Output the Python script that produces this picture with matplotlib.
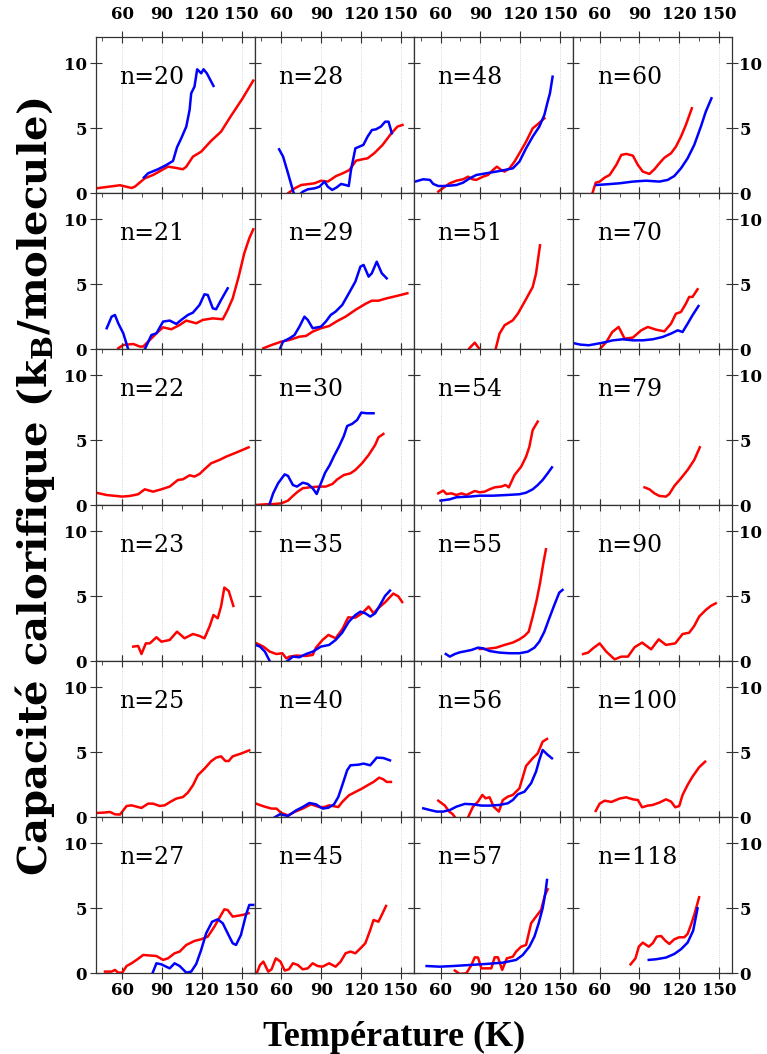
import matplotlib
matplotlib.use("Agg")
import matplotlib.pyplot as plt

# cluster sizes, laid out row by row as in the figure
sizes = [[20, 28, 48, 60],
         [21, 29, 51, 70],
         [22, 30, 54, 79],
         [23, 35, 55, 90],
         [25, 40, 56, 100],
         [27, 45, 57, 118]]

# ---- red curves: temperature (K), heat capacity (kB/molecule) ----
T20r = [40.3, 58.3, 67, 69.5, 77, 83.3, 94.5, 99.5, 105.8, 108.3, 113.3, 119.5, 127, 134.5, 142, 150.8, 158.8]
C20r = [0.38, 0.62, 0.41, 0.51, 1.15, 1.41, 2.05, 1.97, 1.85, 2.05, 2.82, 3.2, 4.03, 4.74, 5.95, 7.31, 8.67]
T21r = [57, 60.8, 68.3, 73.3, 75.8, 80.8, 85.8, 90.8, 97, 103.3, 108.3, 115.8, 120.8, 128.3, 135.8, 139.5, 143.3, 147.8, 152, 155.8, 158.8]
C21r = [0.08, 0.33, 0.41, 0.21, 0.21, 0.72, 1.23, 1.69, 1.54, 1.87, 2.21, 2.0, 2.26, 2.38, 2.31, 3.03, 3.92, 5.59, 7.38, 8.54, 9.23]
T22r = [40.3, 48.3, 60, 65.8, 72, 77, 83.3, 89.5, 95.8, 102, 105.8, 110.8, 114.5, 118.3, 122, 127, 133.3, 138.3, 145.8, 155.3]
C22r = [0.97, 0.79, 0.67, 0.72, 0.85, 1.23, 1.05, 1.23, 1.44, 1.95, 2.0, 2.31, 2.21, 2.41, 2.77, 3.23, 3.49, 3.74, 4.05, 4.46]
T23r = [68.3, 72, 74.5, 77.8, 80.8, 85.8, 89.5, 95.8, 101.3, 107, 113.3, 118.3, 122, 125.8, 128.8, 132, 134.5, 137, 140.3, 143.8]
C23r = [1.13, 1.18, 0.56, 1.38, 1.38, 1.85, 1.51, 1.64, 2.28, 1.77, 2.1, 1.95, 1.77, 2.67, 3.56, 3.31, 4.21, 5.67, 5.41, 4.26]
T25r = [40.3, 45.8, 50.8, 54.5, 58.3, 63.3, 67, 74.5, 79.5, 83.3, 88.3, 92, 97, 100.8, 105.8, 109.5, 113.3, 117, 122, 127, 130.8, 134.5, 137.8, 140.3, 143.3, 149.5, 155.8]
C25r = [0.33, 0.36, 0.41, 0.23, 0.21, 0.87, 0.92, 0.72, 1.05, 1.05, 0.87, 0.92, 1.23, 1.44, 1.56, 1.9, 2.46, 3.23, 3.74, 4.31, 4.59, 4.69, 4.33, 4.33, 4.69, 4.9, 5.15]
T27r = [47, 52, 54.5, 57, 60, 63.3, 67, 70.8, 75.8, 82, 85.8, 90.8, 94.5, 99.5, 103.3, 108.3, 114.5, 119.5, 124.5, 129.5, 133.8, 137, 139.5, 143.3, 150.8, 155.3]
C27r = [0.13, 0.13, 0.26, 0.05, 0.05, 0.56, 0.77, 1.03, 1.41, 1.36, 1.33, 1.03, 1.15, 1.54, 1.67, 2.18, 2.49, 2.62, 2.82, 3.59, 4.36, 4.92, 4.87, 4.36, 4.49, 4.62]
T28r = [65, 70, 75, 81.3, 85, 90, 95, 101.3, 106.3, 111.3, 116.3, 121.3, 125, 130, 136.3, 142.5, 147.5, 151.3]
C28r = [0, 0.38, 0.64, 0.72, 0.77, 0.97, 0.9, 1.33, 1.54, 1.79, 2.51, 2.62, 2.69, 3.08, 3.72, 4.56, 5.13, 5.26]
T29r = [46.4, 52.6, 60, 66.2, 73.6, 78.6, 83.6, 89.8, 96, 102.2, 108.4, 115.8, 123.3, 128.2, 133.2, 139.4, 146.8, 155]
C29r = [0.08, 0.33, 0.59, 0.72, 0.97, 1.03, 1.36, 1.62, 1.79, 2.18, 2.51, 3.03, 3.49, 3.74, 3.74, 3.92, 4.1, 4.31]
T30r = [41.4, 48.8, 55, 60, 65, 68.7, 72.4, 76.1, 81.1, 88.5, 93.5, 98.5, 102.2, 107.1, 112.1, 115.8, 120.8, 125.8, 130.7, 133.2, 136.9]
C30r = [0.03, 0.08, 0.1, 0.15, 0.36, 0.72, 1.05, 1.31, 1.38, 1.44, 1.44, 1.64, 2.0, 2.33, 2.46, 2.72, 3.23, 3.87, 4.64, 5.23, 5.49]
T35r = [41.4, 46.4, 51.3, 56.3, 60.7, 63.7, 66.2, 71.2, 78.6, 83.6, 86.1, 91, 95.5, 100.9, 105.9, 110.4, 115.8, 120.8, 125.8, 129.5, 133.2, 138.2, 144.4, 148.1, 151.1]
C35r = [1.38, 1.13, 0.74, 0.56, 0.62, 0.23, 0.36, 0.44, 0.41, 0.49, 1.05, 1.64, 2.03, 1.77, 2.46, 3.38, 3.36, 3.69, 4.21, 3.69, 4.1, 4.54, 5.21, 5.0, 4.56]
T40r = [40.9, 46.4, 52.6, 56.3, 60, 65, 69.9, 76.1, 82.3, 88.5, 92.3, 96, 99.7, 102.9, 105.9, 110.9, 115.8, 120.8, 125.8, 129.5, 133.7, 136.9, 139.4, 142.6]
C40r = [1.05, 0.85, 0.67, 0.67, 0.33, 0.15, 0.41, 0.67, 1.0, 0.79, 0.79, 0.92, 0.85, 0.79, 1.18, 1.69, 1.95, 2.21, 2.51, 2.72, 3.05, 2.92, 2.72, 2.72]
T45r = [41.4, 43.9, 46.4, 50.1, 52.6, 55.8, 59.3, 62.5, 65.7, 68.7, 72.4, 76.1, 79.9, 83.6, 87.3, 91, 96, 100.9, 104.7, 108.4, 112.1, 115.8, 119.6, 123.3, 127, 129.5, 133.2, 135.7, 138.9]
C45r = [0, 0.64, 0.9, 0.13, 0.31, 1.15, 0.9, 0.21, 0.31, 0.77, 0.64, 0.31, 0.38, 0.77, 0.56, 0.51, 0.77, 0.51, 0.9, 1.54, 1.67, 1.54, 1.92, 2.31, 3.33, 4.1, 3.97, 4.49, 5.18]
T48r = [58.3, 63.3, 67, 72, 77, 80.8, 84, 87, 92, 95.8, 99.5, 102.5, 105.8, 108.3, 112, 115.8, 119.5, 124.5, 129.5, 133.3, 138.3]
C48r = [0.13, 0.51, 0.77, 0.97, 1.08, 1.28, 1.08, 1.03, 1.28, 1.41, 1.79, 2.05, 1.79, 1.67, 1.92, 2.44, 3.08, 3.97, 5.0, 5.31, 5.77]
T51r = [79.5, 81.5, 85.8, 89.5, 94.5, 101.5, 104.5, 108.3, 114.5, 118.3, 123.3, 129.5, 132, 135]
C51r = [-0.5, 0.05, 0.51, 0, -1.0, 0, 1.21, 1.85, 2.23, 2.74, 3.64, 4.79, 5.82, 8.0]
T54r = [58.3, 62, 64.5, 68.3, 72, 75.8, 79.5, 85.8, 89.5, 93.3, 97, 100.8, 105.8, 109, 111.5, 115.8, 120.8, 124.5, 127, 129.5, 133.3]
C54r = [0.92, 1.13, 0.87, 0.92, 0.79, 0.92, 0.79, 1.1, 1.0, 1.05, 1.23, 1.38, 1.44, 1.56, 1.38, 2.33, 2.97, 3.74, 4.51, 5.79, 6.44]
T55r = [89.5, 94.5, 102, 108.3, 114.5, 119.5, 123.3, 126.5, 129.5, 132.5, 135, 137.5, 139.5]
C55r = [0.95, 0.95, 1.05, 1.26, 1.44, 1.69, 1.95, 2.28, 3.44, 4.72, 6.0, 7.54, 8.62]
T56r = [58.3, 63.3, 66.5, 69, 71.5, 75.8, 80.8, 84.5, 88.3, 91.5, 94, 97, 100, 104, 107, 110.8, 114.5, 119.5, 124.5, 129.5, 133.3, 137, 140.3]
C56r = [1.28, 0.9, 0.44, 0.26, -0.08, -0.5, 0, 0.82, 1.21, 1.72, 1.46, 1.54, 0.82, 0.44, 1.33, 1.59, 1.72, 2.23, 3.95, 4.54, 4.92, 5.82, 6.03]
T57r = [70.8, 74.5, 79.5, 83.3, 85.8, 88.3, 90.8, 94.5, 98.3, 100.8, 103.3, 106.5, 110, 114.5, 117, 120.8, 124.5, 128.3, 132, 135.8, 138.8, 140.8]
C57r = [0.21, -0.05, 0, 0.64, 1.23, 1.21, 0.38, 0.38, 0.38, 1.23, 1.23, 0.26, 1.15, 1.28, 1.67, 2.05, 2.18, 3.85, 4.36, 4.87, 6.03, 6.46]
T60r = [54.5, 57, 60, 63.8, 67.5, 72.5, 76.3, 80, 85, 88.8, 92.5, 97.5, 101.3, 105, 108.8, 113.8, 117.5, 121.3, 125, 129.5]
C60r = [0, 0.82, 0.9, 1.21, 1.41, 2.18, 2.95, 3.03, 2.9, 2.18, 1.67, 1.49, 1.85, 2.31, 2.74, 3.08, 3.59, 4.36, 5.26, 6.54]
T70r = [60, 65, 69.5, 74.3, 78.8, 85, 91.3, 96.3, 102.5, 108.8, 113.8, 117.5, 121.3, 125, 127.5, 130, 133.8]
C70r = [0, 0.56, 1.33, 1.72, 0.82, 0.9, 1.46, 1.72, 1.51, 1.38, 1.97, 2.74, 2.87, 3.51, 4.03, 4.03, 4.62]
T79r = [93.8, 97.5, 101.3, 105, 110, 112.5, 116.3, 121.3, 126.3, 131.3, 135.5]
C79r = [1.38, 1.23, 0.92, 0.72, 0.67, 0.87, 1.49, 2.08, 2.72, 3.49, 4.46]
T90r = [47.5, 51.3, 55, 60, 65, 71.3, 76.3, 81.3, 86.3, 92, 98.8, 104.5, 110, 117, 122.5, 127.5, 131.3, 135, 140, 143.8, 147.5]
C90r = [0.56, 0.67, 1.0, 1.38, 0.74, 0.15, 0.36, 0.36, 1.08, 1.44, 0.92, 1.69, 1.26, 1.38, 2.1, 2.2, 2.72, 3.44, 3.95, 4.26, 4.46]
T100r = [57, 60, 63.8, 68.8, 75, 80, 85, 88.8, 92, 96.3, 100, 105, 110, 113.8, 117, 120, 122.5, 126.3, 130, 135, 139.5]
C100r = [0.49, 1.05, 1.28, 1.18, 1.44, 1.54, 1.38, 1.33, 0.77, 0.9, 0.95, 1.13, 1.38, 1.21, 0.77, 0.87, 1.72, 2.49, 3.13, 3.85, 4.28]
T118r = [83.3, 87, 89.5, 92.5, 97, 100, 103, 106.3, 109.5, 112.5, 116.3, 120, 123.8, 126.3, 128.8, 131.3, 135]
C118r = [0.69, 1.15, 2.05, 2.36, 2.05, 2.31, 2.82, 2.87, 2.51, 2.26, 2.62, 2.77, 2.77, 3.03, 3.72, 4.49, 5.85]

# ---- blue curves ----
T20b = [76.3, 79.5, 87, 93.3, 98.3, 101.3, 104.5, 108.3, 110.8, 112, 114.5, 116.5, 118.3, 119.5, 121.3, 123.8, 128.8]
C20b = [1.21, 1.54, 1.85, 2.18, 2.49, 3.54, 4.23, 5.13, 6.41, 7.69, 8.21, 9.54, 9.36, 9.23, 9.54, 9.23, 8.26]
T21b = [48.3, 52, 54.5, 57, 60.8, 64.5, 70.8, 77, 82, 85.8, 90.8, 95.8, 100.8, 104.5, 109.5, 113.3, 118.3, 122, 124.5, 128.3, 130.8, 134.5, 139.5]
C21b = [1.62, 2.51, 2.64, 2.0, 1.23, 0, -0.5, 0, 1.1, 1.23, 2.13, 2.21, 1.95, 2.26, 2.64, 2.82, 3.41, 4.23, 4.18, 3.15, 3.08, 3.79, 4.69]
T28b = [58.3, 61.3, 65, 69.3, 72.5, 76.3, 80, 85, 88.8, 92.5, 95, 98.3, 101.8, 105, 108.3, 110.8, 112.5, 115.8, 118.8, 121.8, 125, 128.3, 131.3, 135, 138.3, 140.8, 143.3]
C28b = [3.38, 2.82, 1.54, 0, -0.2, 0.13, 0.31, 0.38, 0.51, 0.9, 0.51, 0.26, 0.46, 0.72, 0.64, 0.56, 1.79, 3.46, 3.59, 3.72, 4.36, 4.87, 4.92, 5.13, 5.51, 5.51, 4.62]
T29b = [58.8, 61.2, 66.2, 69.9, 73.6, 77.4, 79.9, 83.6, 89.8, 93.5, 97.2, 100.9, 105.9, 110.9, 115.8, 119.6, 122, 125.8, 128.2, 131.9, 135.7, 139.4]
C29b = [0, 0.59, 0.85, 1.1, 1.74, 2.51, 2.26, 1.62, 1.74, 2.13, 2.64, 2.9, 3.41, 4.31, 5.21, 6.36, 6.49, 5.59, 5.85, 6.74, 5.85, 5.46]
T30b = [50.8, 53.8, 57.5, 62.5, 65, 68.7, 71.7, 76.1, 79.9, 83.6, 86.6, 89.8, 93, 96.5, 99.7, 103.4, 107.1, 109.6, 113.3, 117.1, 120.3, 124.5, 129.5]
C30b = [0, 0.92, 1.69, 2.38, 2.26, 1.56, 1.44, 1.74, 1.64, 1.31, 0.87, 1.69, 2.51, 3.1, 3.79, 4.51, 5.33, 6.1, 6.26, 6.56, 7.13, 7.08, 7.08]
T35b = [40.6, 43.9, 47.6, 51.3, 55, 60, 64.2, 68.7, 73.6, 78.6, 83.6, 89.8, 96, 100.9, 105.9, 110.9, 115.8, 119.6, 123.3, 127, 130.7, 134.4, 138.2, 141.9]
C35b = [1.26, 1.13, 0.74, 0, -0.5, -0.3, 0, 0.36, 0.31, 0.56, 0.74, 1.13, 1.26, 1.64, 2.21, 3.05, 3.56, 3.82, 3.69, 3.44, 3.69, 4.33, 5.03, 5.44]
T40b = [55, 58.8, 65, 71.2, 76.1, 81.1, 86.1, 91, 95.5, 99.7, 102.9, 105.9, 109.6, 112.1, 118.3, 122, 127, 131.9, 136.9, 141.9]
C40b = [0, 0.23, 0.1, 0.54, 0.79, 1.1, 1.0, 0.67, 0.74, 1.0, 1.56, 2.46, 3.62, 4.0, 4.05, 4.13, 4.0, 4.59, 4.56, 4.38]
T48b = [40.8, 47, 52, 54.5, 58.3, 62, 67, 72, 77, 82, 87, 94.5, 102, 108.3, 114.5, 119.5, 124.5, 129.5, 134.5, 138.3, 140.8, 142.5, 144.5]
C48b = [0.9, 1.08, 1.03, 0.72, 0.56, 0.56, 0.59, 0.64, 0.82, 1.15, 1.41, 1.54, 1.67, 1.79, 1.92, 2.44, 3.46, 4.36, 5.13, 6.03, 7.05, 7.69, 8.97]
T54b = [60, 67, 72, 82, 89.5, 99.5, 109.5, 119.5, 124.5, 129.5, 133.3, 137, 140.8, 144]
C54b = [0.36, 0.46, 0.62, 0.67, 0.74, 0.74, 0.79, 0.85, 0.97, 1.23, 1.56, 1.95, 2.46, 2.92]
T55b = [64, 67, 70.8, 74.5, 79.5, 83.3, 88.3, 92, 97, 104.5, 112, 119.5, 125.8, 130.8, 134.5, 138.3, 142, 145.8, 149.5, 152]
C55b = [0.56, 0.36, 0.56, 0.69, 0.79, 0.87, 1.05, 1.0, 0.79, 0.67, 0.62, 0.62, 0.74, 1.05, 1.51, 2.28, 3.31, 4.33, 5.28, 5.49]
T56b = [47, 52, 57, 62, 67, 72, 78.3, 84.5, 90.8, 97, 104.5, 110.8, 114.5, 118.3, 123.3, 128.3, 132, 134.5, 137, 140.3, 144]
C56b = [0.69, 0.56, 0.44, 0.44, 0.56, 0.82, 1.03, 1.0, 0.9, 0.9, 0.95, 1.08, 1.33, 1.77, 1.97, 2.62, 3.51, 4.41, 5.18, 4.85, 4.54]
T57b = [49.5, 59.5, 69.5, 82, 94.5, 107, 117, 122, 127, 130.8, 134, 137, 139, 140.3]
C57b = [0.56, 0.51, 0.56, 0.64, 0.72, 0.82, 1.03, 1.41, 2.05, 2.82, 3.85, 5.0, 6.15, 7.18]
T60b = [57.5, 65, 75, 85, 95, 105, 111.3, 116.3, 121.3, 126.3, 131.3, 136.3, 140, 144.3]
C60b = [0.64, 0.69, 0.77, 0.9, 0.97, 0.9, 1.03, 1.33, 1.92, 2.69, 3.72, 5.13, 6.28, 7.31]
T70b = [39.5, 45.5, 51.8, 62.5, 70, 77.5, 85, 92.5, 100, 107.5, 113.8, 118.8, 122.5, 126.3, 130, 134.5]
C70b = [0.49, 0.36, 0.31, 0.51, 0.69, 0.77, 0.69, 0.69, 0.77, 0.95, 1.21, 1.46, 1.33, 1.97, 2.62, 3.33]
T118b = [97, 102.5, 110, 116.3, 121.3, 126.3, 130.5, 133.8]
C118b = [1.03, 1.08, 1.21, 1.49, 1.85, 2.36, 3.28, 5.0]
T27b = [82.8, 85.8, 89.5, 95.8, 99.5, 103.3, 108.3, 112, 115.8, 119.5, 123.3, 127.8, 132, 135.8, 139.5, 143.3, 145.8, 149.5, 153.3, 155.8, 158.8]
C27b = [0, 0.77, 0.69, 0.38, 0.77, 0.56, 0.05, 0.13, 0.72, 1.79, 3.08, 3.97, 4.15, 3.85, 3.08, 2.31, 2.18, 2.95, 4.49, 5.26, 5.26]

red = {20: (T20r, C20r), 21: (T21r, C21r), 22: (T22r, C22r), 23: (T23r, C23r),
       25: (T25r, C25r), 27: (T27r, C27r), 28: (T28r, C28r), 29: (T29r, C29r),
       30: (T30r, C30r), 35: (T35r, C35r), 40: (T40r, C40r), 45: (T45r, C45r),
       48: (T48r, C48r), 51: (T51r, C51r), 54: (T54r, C54r), 55: (T55r, C55r),
       56: (T56r, C56r), 57: (T57r, C57r), 60: (T60r, C60r), 70: (T70r, C70r),
       79: (T79r, C79r), 90: (T90r, C90r), 100: (T100r, C100r), 118: (T118r, C118r)}
blue = {20: (T20b, C20b), 21: (T21b, C21b), 27: (T27b, C27b), 28: (T28b, C28b),
        29: (T29b, C29b), 30: (T30b, C30b), 35: (T35b, C35b), 40: (T40b, C40b),
        48: (T48b, C48b), 54: (T54b, C54b), 55: (T55b, C55b), 56: (T56b, C56b),
        57: (T57b, C57b), 60: (T60b, C60b), 70: (T70b, C70b), 118: (T118b, C118b)}

plt.rcParams['mathtext.fontset'] = 'dejavuserif'

W, H = 767, 1054
fig = plt.figure(figsize=(W / 100, H / 100), dpi=100)
axes = fig.subplots(6, 4, sharex=True, sharey=True,
                    gridspec_kw=dict(left=95.7 / W, right=732.3 / W,
                                     top=1 - 37.3 / H, bottom=1 - 973.3 / H,
                                     hspace=0, wspace=0))

tick_font = dict(family='DejaVu Serif', weight='bold', size=12)

for r in range(6):
    for c in range(4):
        ax = axes[r, c]
        n = sizes[r][c]
        ax.set_xlim(40, 160)
        ax.set_ylim(0, 12)
        ax.set_xticks([60, 90, 120, 150])
        ax.set_xticks([45, 75, 105, 135], minor=True)
        ax.set_yticks([0, 5, 10])
        for sp in ax.spines.values():
            sp.set_linewidth(0.9)
            sp.set_color('#333333')
        ax.grid(axis='x', which='major', color='#c8c8c8', lw=0.6, ls=':')

        ax.tick_params(which='major', direction='inout', length=8, width=0.8,
                       color='#333333', top=True, right=True, bottom=True, left=True,
                       labeltop=(r == 0), labelbottom=(r == 5),
                       labelleft=(c == 0), labelright=(c == 3))
        ax.tick_params(axis='x', which='major', pad=6 if r == 0 else 2)
        ax.tick_params(axis='y', which='major', pad=2.3 if c == 0 else 1)
        ax.tick_params(axis='x', which='minor', direction='in', length=3, width=0.6,
                       color='#333333', top=True, bottom=False)
        for lab in ax.get_xticklabels() + ax.get_yticklabels():
            lab.set(**tick_font)
        for tk in ax.xaxis.get_major_ticks():
            tk.label2.set(**tick_font)
        for tk in ax.yaxis.get_major_ticks():
            tk.label2.set(**tick_font)

        if n in red:
            ax.plot(red[n][0], red[n][1], color='#ff0000', lw=1.8, solid_joinstyle='round')
        if n in blue:
            ax.plot(blue[n][0], blue[n][1], color='#0000ff', lw=1.8, solid_joinstyle='round')

        xlab = 0.21 if n == 29 else 0.148
        ax.text(xlab, 0.70, f"n={n}", transform=ax.transAxes, ha='left', va='baseline',
                family='DejaVu Serif', fontsize=17)

fig.text(35 / W, 1 - 487 / H, r'Capacité calorifique (k$_\mathbf{B}$/molecule)',
         rotation=90, ha='center', va='center', family='DejaVu Serif',
         weight='bold', fontsize=29)
fig.text(394.5 / W, 1 - 1046 / H, 'Température (K)', ha='center', va='baseline',
         family='Liberation Serif', weight='bold', fontsize=26)

fig.savefig('out.png', dpi=100)
